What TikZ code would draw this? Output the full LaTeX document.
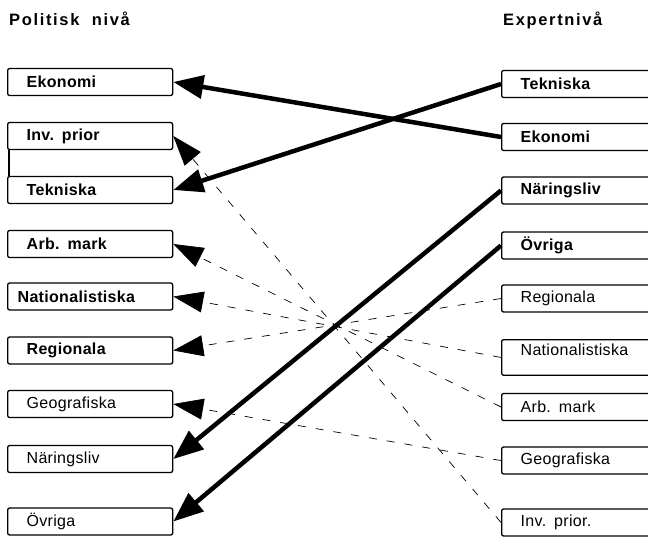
\documentclass[tikz,border=0pt]{standalone}
\usepackage{fontspec}
\setmainfont{Liberation Sans}[LetterSpace=2]
\newfontfamily\headfont{Liberation Sans}[LetterSpace=10]
\usetikzlibrary{arrows.meta, positioning}
\tikzset{
  lbox/.style={rectangle, draw, line width=1.3pt, rounded corners=2pt,
               minimum height=27pt, text width=127pt, inner xsep=19pt,
               align=left, anchor=west, font=\fontsize{16}{18}\selectfont},
  rbox/.style={lbox, text width=150pt},
  strong/.style={font=\fontsize{16}{18}\selectfont\bfseries},
  heavy/.style={-{Triangle[length=30pt,width=23pt]}, line width=4.5pt},
  faint/.style={-{Triangle[length=30pt,width=21pt]}, line width=0.7pt,
                dash pattern=on 8pt off 10pt},
  head/.style={anchor=base west, inner sep=0pt,
               font=\fontsize{16.5}{18}\selectfont\headfont\bfseries}
}

\begin{document}
\begin{tikzpicture}[x=1pt, y=-1pt]
  \clip (0,0) rectangle (648,536);
  \node[head] (polhead) at (9,25) {Politisk\ \ nivå};
  \node[head] (exphead) at (503,25) {Expertnivå};

  % politisk niva
  \node[lbox, strong] (lEko) at (7,82) {Ekonomi};
  \node[lbox, strong] (lInv) at (7,136) {Inv. prior};
  \node[lbox, strong] (lTek) at (7,190) {Tekniska};
  \node[lbox, strong] (lArb) at (7,244) {Arb. mark};
  \node[lbox, strong, text width=145pt, inner xsep=10pt] (lNat) at (7,296.5) {Nationalistiska};
  \node[lbox, strong] (lReg) at (7,350.5) {Regionala};
  \node[lbox] (lGeo) at (7,404) {Geografiska};
  \node[lbox] (lNar) at (7,459) {Näringsliv};
  \node[lbox] (lOvr) at (7,521.5) {Övriga};

  % expertniva
  \node[rbox, strong] (rTek) at (501,84) {Tekniska};
  \node[rbox, strong] (rEko) at (501,137) {Ekonomi};
  \node[rbox, strong] (rNar) at (501,190.5) {Näringsliv};
  \node[rbox, strong] (rOvr) at (501,245.5) {Övriga};
  \node[rbox] (rReg) at (501,298.5) {Regionala};
  \node[rbox, anchor=north west, inner ysep=4pt, text depth=16pt] (rNat) at (501,339) {Nationalistiska};
  \node[rbox] (rArb) at (501,407) {Arb. mark};
  \node[rbox] (rGeo) at (501,460.5) {Geografiska};
  \node[rbox] (rInv) at (501,522.5) {Inv. prior.};

  \draw[line width=1.3pt] ([xshift=2pt]lInv.south west) -- ([xshift=2pt]lTek.north west);

  \draw[heavy] (rEko.west) -- (lEko.east);
  \draw[heavy] (rTek.west) -- (lTek.east);
  \draw[heavy] (rNar.west) -- (lNar.east);
  \draw[heavy] (rOvr.west) -- (lOvr.east);

  \draw[faint] (rReg.west) -- (lReg.east);
  \draw[faint] (rNat.west) -- (lNat.east);
  \draw[faint] (rArb.west) -- (lArb.east);
  \draw[faint] (rGeo.west) -- (lGeo.east);
  \draw[faint] (rInv.west) -- (lInv.east);
\end{tikzpicture}
\end{document}
